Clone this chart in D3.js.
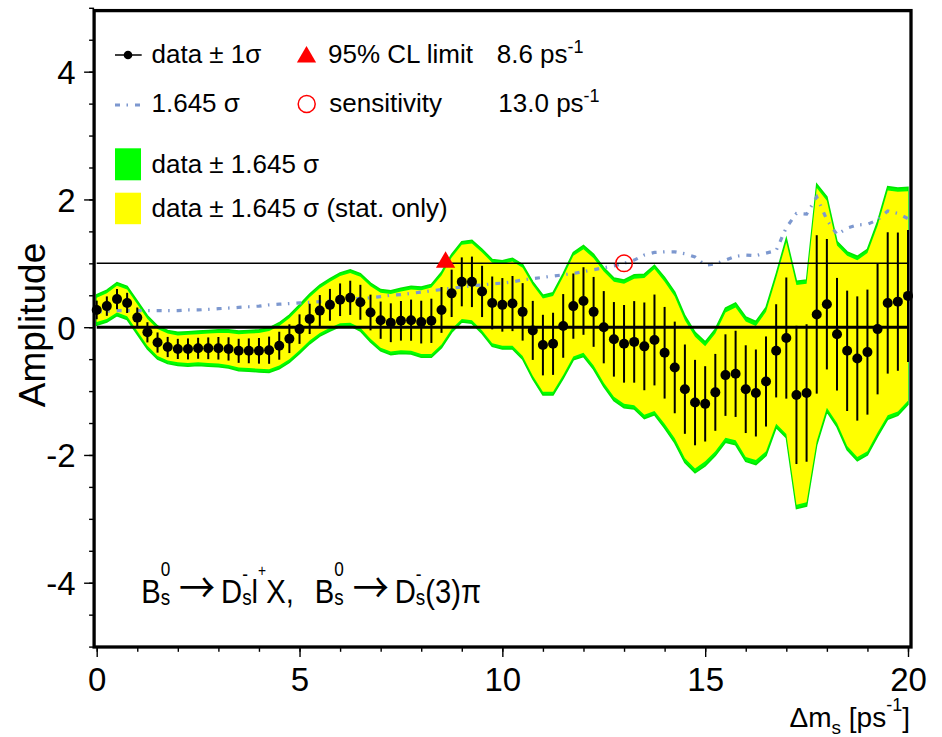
<!DOCTYPE html>
<html><head><meta charset="utf-8">
<script src="https://cdn.jsdelivr.net/npm/d3@7"></script>
<style>
body{margin:0;background:#fff}
svg{display:block}
text{font-family:"Liberation Sans",Arial,Helvetica,sans-serif;fill:#000;white-space:pre}
</style>
</head><body>
<svg id="c" width="942" height="737"></svg>
<script>
// ---------------- data ----------------
const deltaMs = [0,0.25,0.5,0.75,1,1.25,1.5,1.75,2,2.25,
  2.5,2.75,3,3.25,3.5,3.75,4,4.25,4.5,4.75,
  5,5.25,5.5,5.75,6,6.25,6.5,6.75,7,7.25,
  7.5,7.75,8,8.25,8.5,8.75,9,9.25,9.5,9.75,
  10,10.25,10.5,10.75,11,11.25,11.5,11.75,12,12.25,
  12.5,12.75,13,13.25,13.5,13.75,14,14.25,14.5,14.75,
  15,15.25,15.5,15.75,16,16.25,16.5,16.75,17,17.25,
  17.5,17.75,18,18.25,18.5,18.75,19,19.25,19.5,19.75,
  20];
const amplitude = [0.27,0.33,0.44,0.38,0.15,-0.08,-0.24,-0.31,-0.34,-0.34,
  -0.33,-0.33,-0.33,-0.34,-0.37,-0.37,-0.37,-0.36,-0.29,-0.18,
  -0.03,0.13,0.26,0.35,0.43,0.46,0.39,0.23,0.11,0.07,
  0.10,0.11,0.08,0.10,0.27,0.53,0.71,0.71,0.56,0.38,
  0.35,0.37,0.24,-0.05,-0.28,-0.26,0.02,0.33,0.41,0.24,
  0.00,-0.19,-0.26,-0.23,-0.30,-0.20,-0.40,-0.63,-0.97,-1.18,
  -1.20,-1.02,-0.75,-0.73,-0.97,-1.03,-0.85,-0.37,-0.17,-1.06,
  -1.03,0.20,0.36,-0.11,-0.37,-0.49,-0.39,-0.03,0.38,0.40,
  0.49];
// 1.645 sigma (total)
const sigma1645 = [0.24,0.25,0.26,0.26,0.26,0.26,0.26,0.26,0.26,0.27,
  0.27,0.28,0.29,0.30,0.31,0.32,0.33,0.35,0.36,0.37,
  0.38,0.39,0.40,0.41,0.42,0.44,0.45,0.46,0.48,0.50,
  0.51,0.53,0.55,0.57,0.59,0.61,0.63,0.65,0.66,0.68,
  0.69,0.71,0.74,0.76,0.78,0.80,0.82,0.84,0.87,0.90,
  0.93,0.96,1.00,1.05,1.13,1.17,1.18,1.18,1.15,1.10,
  0.97,0.99,1.05,1.11,1.13,1.12,1.16,1.20,1.56,1.78,
  1.77,2.04,1.68,1.45,1.55,1.60,1.61,1.68,1.82,1.78,
  1.70];
// 1.645 sigma (statistical only)
const sigma1645Stat = [0.19,0.20,0.21,0.21,0.21,0.21,0.21,0.21,0.21,0.22,
  0.22,0.23,0.24,0.25,0.26,0.27,0.28,0.30,0.31,0.32,
  0.33,0.34,0.35,0.36,0.37,0.39,0.40,0.41,0.43,0.45,
  0.46,0.48,0.50,0.52,0.54,0.56,0.58,0.60,0.61,0.63,
  0.64,0.66,0.69,0.71,0.73,0.75,0.77,0.79,0.81,0.84,
  0.87,0.90,0.94,0.99,1.07,1.11,1.11,1.11,1.08,1.03,
  0.90,0.92,0.98,1.04,1.06,1.05,1.09,1.14,1.50,1.72,
  1.71,1.98,1.62,1.39,1.49,1.54,1.55,1.62,1.76,1.72,
  1.64];
const xMajorTicks = [0,5,10,15,20];
const xMinorTicks = [0,1,2,3,4,5,6,7,8,9,10,11,12,13,14,15,16,17,18,19,20];
const yMajorTicks = [-4,-2,0,2,4];
const yMinorTicks = [-5,-4.5,-4,-3.5,-3,-2.5,-2,-1.5,-1,-0.5,0,0.5,1,1.5,2,2.5,3,3.5,4,4.5,5];
const clLimit = 8.6;
const sensitivity = 13.0;
const refLevel = 1.0;

// ---------------- drawing ----------------
const svg = d3.select("#c");
const x = d3.scaleLinear().domain([0,20]).range([96.7,908]);
const y = d3.scaleLinear().domain([-5,5]).range([646.6,7.8]);
const pts = deltaMs.map((d,i)=>({x:d,a:amplitude[i],s:sigma1645[i],ss:sigma1645Stat[i]}));
const tickFmt = d => String(d);   // plain hyphen minus, as in the reference

const plot = svg.append("g");
// green band (total)
plot.append("path").datum(pts)
  .attr("d", d3.area().x(d=>x(d.x)).y0(d=>y(d.a-d.s)).y1(d=>y(d.a+d.s)))
  .attr("fill","#00ff00").attr("stroke","#00e600").attr("stroke-width",1.5);
// yellow band (stat only)
plot.append("path").datum(pts)
  .attr("d", d3.area().x(d=>x(d.x)).y0(d=>y(d.a-d.ss)).y1(d=>y(d.a+d.ss)))
  .attr("fill","#ffff00");
// 1.645 sigma curve
const blueDash = "5,6.5,1.5,7";
plot.append("path").datum(pts)
  .attr("d", d3.line().x(d=>x(d.x)).y(d=>y(d.s)))
  .attr("fill","none").attr("stroke","#7d98cf").attr("stroke-width",3.2)
  .attr("stroke-dasharray",blueDash);
// reference lines
plot.append("line").attr("x1",x(0)).attr("x2",x(20)).attr("y1",y(refLevel)).attr("y2",y(refLevel))
  .attr("stroke","#000").attr("stroke-width",1.4);
plot.append("line").attr("x1",x(0)).attr("x2",x(20)).attr("y1",y(0)).attr("y2",y(0))
  .attr("stroke","#000").attr("stroke-width",3);
// error bars
plot.selectAll("line.eb").data(pts).join("line").attr("class","eb")
  .attr("x1",d=>x(d.x)).attr("x2",d=>x(d.x))
  .attr("y1",d=>y(d.a-d.s/1.645)).attr("y2",d=>y(d.a+d.s/1.645))
  .attr("stroke","#000").attr("stroke-width",2);
// points
plot.selectAll("circle.pt").data(pts).join("circle").attr("class","pt")
  .attr("cx",d=>x(d.x)).attr("cy",d=>y(d.a)).attr("r",5).attr("fill","#000");
// markers
const tri = d3.symbol().type(d3.symbolTriangle).size(160);
plot.append("path").attr("d",tri()).attr("fill","#ff0000")
  .attr("transform",`translate(${x(clLimit)},${y(refLevel)-1})`);
plot.append("circle").attr("cx",x(sensitivity)).attr("cy",y(refLevel)).attr("r",8.3)
  .attr("fill","none").attr("stroke","#ff0000").attr("stroke-width",1.5);

// frame
const fx0 = x(0)-2.6, fx1 = x(20)+3, fy0 = y(5)+2.8, fy1 = y(-5)+0.4;
svg.append("rect").attr("x",fx0).attr("y",fy0).attr("width",fx1-fx0).attr("height",fy1-fy0)
  .attr("fill","none").attr("stroke","#000").attr("stroke-width",3.3);

// axes
function styleAxis(g){ g.select(".domain").remove(); g.selectAll("line").attr("stroke","#000").attr("stroke-width",1.4); }
const gxMinor = svg.append("g").attr("transform",`translate(0,${fy1})`)
  .call(d3.axisBottom(x).tickValues(xMinorTicks).tickSize(4.8).tickFormat(""));
styleAxis(gxMinor);
const gxMajor = svg.append("g").attr("transform",`translate(0,${fy1})`)
  .call(d3.axisBottom(x).tickValues(xMajorTicks).tickSize(10).tickFormat(tickFmt));
styleAxis(gxMajor);
gxMajor.attr("font-family",null).attr("font-size",null);
gxMajor.selectAll("text").attr("y",43.7).attr("dy",null).attr("font-size",33).attr("fill","#000");

const gyMinor = svg.append("g").attr("transform",`translate(${fx0},0)`)
  .call(d3.axisLeft(y).tickValues(yMinorTicks).tickSize(5).tickFormat(""));
styleAxis(gyMinor);
const gyMajor = svg.append("g").attr("transform",`translate(${fx0},0)`)
  .call(d3.axisLeft(y).tickValues(yMajorTicks).tickSize(10).tickFormat(tickFmt));
styleAxis(gyMajor);
gyMajor.attr("font-family",null).attr("font-size",null);
gyMajor.selectAll("text").attr("x",-18.5).attr("dy","0.36em").attr("font-size",33).attr("fill","#000");

// axis titles
svg.append("text").attr("transform","translate(45,325) rotate(-90)")
  .attr("text-anchor","middle").attr("font-size",37).text("Amplitude");

// rich text helper (sub/superscripts stacked like ROOT TLatex)
function rich(x0, y0, fs, parts, opts){
  opts = opts || {};
  const g = svg.append("g");
  let cx = 0;
  parts.forEach(p=>{
    if (p.gap !== undefined){ cx += p.gap*fs; return; }
    if (p.t !== undefined){
      const t = g.append("text").attr("x",cx).attr("y",p.dy||0).attr("font-size",p.fs||fs).text(p.t);
      if (p.font) t.style("font-family",p.font);
      cx += t.node().getComputedTextLength(); return;
    }
    let w = 0;
    if (p.sup !== undefined){
      const t = g.append("text").attr("x",cx).attr("y",-(p.up!==undefined?p.up:0.62*fs))
        .attr("font-size",p.supFs||p.fs||fs*0.65).text(p.sup);
      w = Math.max(w, t.node().getComputedTextLength());
    }
    if (p.sub !== undefined){
      const t = g.append("text").attr("x",cx).attr("y",(p.down!==undefined?p.down:0.06*fs))
        .attr("font-size",p.subFs||p.fs||fs*0.65).text(p.sub);
      w = Math.max(w, t.node().getComputedTextLength());
    }
    cx += (p.w!==undefined ? p.w : w);
  });
  const sx = opts.scaleX || 1;
  const tx = opts.alignEnd ? x0 - cx*sx : x0;
  g.attr("transform",`translate(${tx},${y0}) scale(${sx},1)`);
  return g;
}

rich(910, 727.3, 28, [{t:"Δm"},{sub:"s",down:6.7,fs:19},{gap:0.28},{t:"[ps"},{sup:"-1",up:16,fs:18},{t:"]"}], {alignEnd:true});

const ARROW = {t:"→", font:"Noto Sans CJK JP", fs:42};
const Bs0 = {sup:"0", sub:"s", up:27.6, down:1.2, supFs:20, subFs:22};
const Dsm = {sup:"-", sub:"s", up:22, down:1.2, supFs:20, subFs:22};
rich(141.2, 603.3, 34, [
  {t:"B"},Bs0,{gap:0.3},ARROW,{gap:0.2},
  {t:"D"},Dsm,{t:"l"},{sup:"+",supFs:16,up:27},{t:"X,"},{gap:0.72},
  {t:"B"},Bs0,{gap:0.3},ARROW,{gap:0.2},
  {t:"D"},Dsm,{t:"(3)π"}
], {scaleX:0.86});

// legend
const lg = svg.append("g");
const LFS = 26;
lg.append("line").attr("x1",115).attr("x2",141.7).attr("y1",55).attr("y2",55).attr("stroke","#000").attr("stroke-width",1.5);
lg.append("circle").attr("cx",128).attr("cy",55).attr("r",4.3).attr("fill","#000");
lg.append("text").attr("x",151.5).attr("y",63.3).attr("font-size",LFS).text("data ± 1σ");
lg.append("line").attr("x1",115).attr("x2",141.7).attr("y1",105).attr("y2",105).attr("stroke","#7d98cf")
  .attr("stroke-width",3.2).attr("stroke-dasharray",blueDash);
lg.append("text").attr("x",151.5).attr("y",111.7).attr("font-size",LFS).text("1.645 σ");
lg.append("rect").attr("x",115).attr("y",148.3).attr("width",26).attr("height",32).attr("fill","#00ff00");
lg.append("text").attr("x",151.5).attr("y",173).attr("font-size",LFS).text("data ± 1.645 σ");
lg.append("rect").attr("x",115).attr("y",192.7).attr("width",26).attr("height",31.5).attr("fill","#ffff00");
lg.append("text").attr("x",151.5).attr("y",216.7).attr("font-size",LFS).text("data ± 1.645 σ (stat. only)");
lg.append("path").attr("d",tri()).attr("fill","#ff0000").attr("transform","translate(306.5,57)");
lg.append("text").attr("x",328).attr("y",63.3).attr("font-size",LFS).text("95% CL limit");
lg.append("circle").attr("cx",306.7).attr("cy",104).attr("r",8.5).attr("fill","none").attr("stroke","#ff0000").attr("stroke-width",1.5);
lg.append("text").attr("x",329.3).attr("y",111.7).attr("font-size",LFS).text("sensitivity");
rich(496.7, 63.3, LFS, [{t:d3.format(".1f")(clLimit)+" ps"},{sup:"-1",up:10,fs:18}]);
rich(498.3, 111.7, LFS, [{t:d3.format(".1f")(sensitivity)+" ps"},{sup:"-1",up:10,fs:18}]);
</script>
</body></html>
